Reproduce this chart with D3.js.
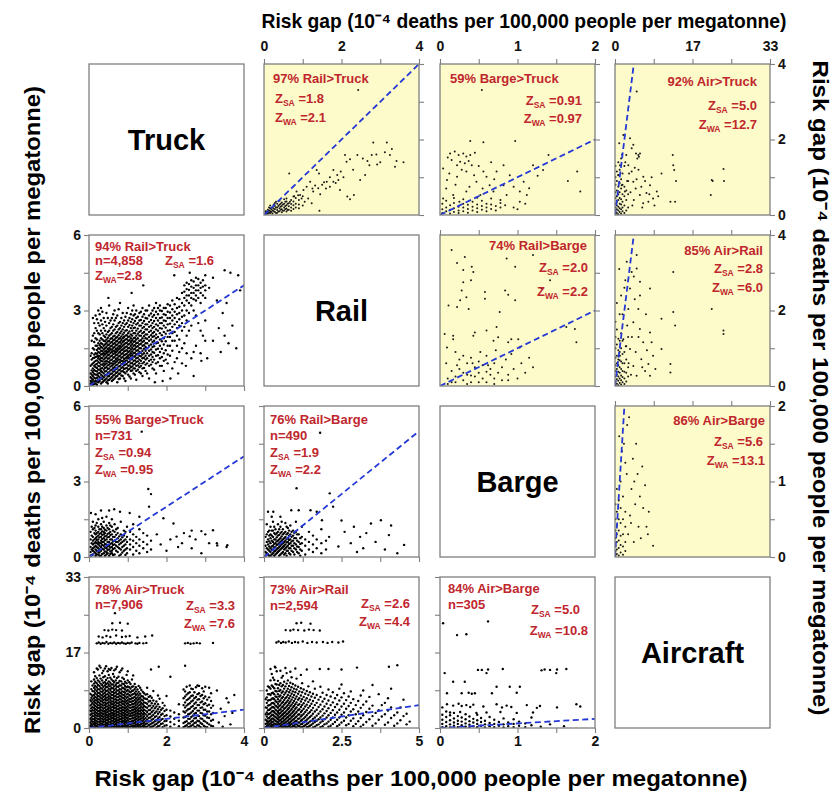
<!DOCTYPE html>
<html><head><meta charset="utf-8">
<script src="https://cdn.jsdelivr.net/npm/d3@7"></script>
<style>
body{margin:0;background:#fff}
svg{display:block}
text{font-family:"Liberation Sans",Arial,Helvetica,sans-serif;font-weight:bold}
</style>
</head><body>
<svg id="chart" width="833" height="794"></svg>
<script>
// ---------------- data ----------------
const modes = ["Truck", "Rail", "Barge", "Aircraft"];

// axis extents: lower triangle uses bottom/left axes, upper triangle top/right axes
const lowerXMax = [4, 5, 2];          // columns 0..2
const lowerYMax = [null, 6, 6, 33];   // rows 1..3
const upperXMax = [null, 4, 2, 33];   // columns 1..3
const upperYMax = [4, 4, 2];          // rows 0..2
const lowerXTickLabels = [["0","2","4"], ["0","2.5","5"], ["0","1","2"]];
const lowerYTickLabels = [null, ["0","3","6"], ["0","3","6"], ["0","17","33"]];
const upperXTickLabels = [null, ["0","2","4"], ["0","1","2"], ["0","17","33"]];
const upperYTickLabels = [["0","2","4"], ["0","2","4"], ["0","1","2"]];

const axisTitle = "Risk gap (10\u207B\u2074 deaths per 100,000 people per megatonne)";

// [row, col, headline, n, Z_SA text, Z_WA text]
const annotations = [
  [0,1,"97% Rail>Truck", null, " =1.8", " =2.1"],
  [0,2,"59% Barge>Truck", null, " =0.91", " =0.97"],
  [0,3,"92% Air>Truck", null, " =5.0", " =12.7"],
  [1,2,"74% Rail>Barge", null, " =2.0", " =2.2"],
  [1,3,"85% Air>Rail", null, " =2.8", " =6.0"],
  [2,3,"86% Air>Barge", null, " =5.6", " =13.1"],
  [1,0,"94% Rail>Truck", "n=4,858", " =1.6", "=2.8"],
  [2,0,"55% Barge>Truck", "n=731", " =0.94", " =0.95"],
  [2,1,"76% Rail>Barge", "n=490", " =1.9", " =2.2"],
  [3,0,"78% Air>Truck", "n=7,906", " =3.3", " =7.6"],
  [3,1,"73% Air>Rail", "n=2,594", " =2.6", " =4.4"],
  [3,2,"84% Air>Barge", "n=305", " =5.0", " =10.8"]
];

// scatter values: flat [x,y,x,y,...] lists and column strips [x, y1, y2, ...]
const railTruckUpperPts = [2.43,3.31,0.65,1.10,2.82,1.92,3.17,1.92,2.09,1.59,2.22,1.48,2.41,1.59,2.13,1.41,2.67,1.43,2.78,1.59,2.72,1.32,2.92,1.34,3.12,1.66,3.25,1.59,3.42,1.43,3.60,1.40,3.38,1.28,1.79,1.19,1.89,1.06,1.98,1.15,2.15,0.49,2.32,0.53,2.22,0.42,1.36,1.19,1.42,1.10,1.62,0.88,1.55,0.87,1.43,0.11,1.19,0.88,1.32,0.78,1.40,0.71,1.27,0.62,1.10,0.75,1.02,0.66,0.93,0.53,0.84,0.62,0.97,0.44,0.76,0.49,0.67,0.35,0.58,0.44,1.14,0.44,1.23,0.31,1.79,0.88,1.92,0.93,1.70,0.75,1.96,0.66,2.48,0.93,2.61,1.06,1.50,0.80,1.60,0.70,1.70,1.00,1.85,0.85,2.05,1.00,2.30,1.20,2.55,1.50,3.00,1.40,3.30,1.75,2.90,1.60,1.25,0.70,1.45,0.55,1.05,0.35,0.88,0.52,0.78,0.50];
const railTruckUpperStrips = [[0.04,0.02,0.06,0.1],[0.1,0.03,0.08,0.14],[0.16,0.05,0.1,0.18,0.25],[0.22,0.04,0.12,0.2],[0.28,0.08,0.15,0.24,0.32],[0.34,0.06,0.13,0.2,0.3],[0.4,0.1,0.18,0.27,0.38],[0.46,0.07,0.15,0.24,0.33],[0.52,0.12,0.2,0.3,0.42],[0.58,0.09,0.17,0.26,0.36],[0.64,0.14,0.23,0.31],[0.7,0.11,0.2,0.29,0.4],[0.76,0.16,0.26,0.36],[0.82,0.2,0.3,0.45],[0.9,0.18,0.28,0.4],[1.0,0.25,0.5],
[0.07,0.04,0.09],[0.13,0.06,0.12,0.2],[0.19,0.08,0.15],[0.25,0.1,0.17,0.28],[0.31,0.05,0.2,0.35],[0.37,0.09,0.24],[0.43,0.14,0.22,0.3],[0.49,0.11,0.28],[0.55,0.16,0.24,0.35],[0.61,0.13,0.3]];

const bargeTruckUpperPts = [0.54,3.31,0.39,1.96,0.56,1.93,0.97,1.96,0.13,1.63,0.19,1.68,0.24,1.59,0.30,1.63,0.34,1.55,0.39,1.59,0.15,1.46,0.26,1.41,0.22,1.32,0.32,1.37,0.37,1.43,0.41,1.32,0.45,1.65,0.10,1.52,0.04,1.23,0.09,0.93,0.22,1.01,0.34,1.15,0.56,1.15,0.60,1.01,0.73,1.15,0.82,1.32,0.47,0.88,0.64,0.79,0.82,0.79,0.95,0.75,1.03,0.62,1.08,0.88,1.12,0.53,0.86,0.53,0.69,0.62,0.52,0.53,0.34,0.62,0.17,0.53,0.04,0.44,1.20,1.32,1.33,1.19,1.40,1.59,1.65,0.90,1.77,1.15,1.81,0.62,1.26,1.04,1.15,0.71,1.03,0.35,1.10,0.30,0.95,0.20,0.28,1.20,0.12,1.10,0.50,1.30,0.66,1.40,0.44,1.05,0.70,0.95,0.90,1.05,0.78,0.40,0.60,0.30,1.00,0.15,0.20,0.80,0.08,0.70,0.38,0.75,0.55,0.70,0.25,0.35];
const bargeTruckUpperStrips = [[0.03,0.05,0.15,0.3],[0.08,0.1,0.2,0.38],[0.13,0.04,0.14,0.26],[0.18,0.08,0.18,0.32,0.45],[0.24,0.05,0.12,0.22],[0.3,0.1,0.2,0.3,0.42],[0.36,0.06,0.16,0.27],[0.42,0.12,0.22,0.35],[0.48,0.08,0.18,0.28,0.46],[0.54,0.14,0.24,0.38],[0.6,0.1,0.2],[0.66,0.16,0.28,0.44],[0.72,0.12,0.24],[0.78,0.2,0.32],[0.84,0.26]];

const airTruckUpperPts = [4.62,3.27,4.47,1.63,4.97,1.59,5.32,1.63,4.75,1.50,5.10,1.54,2.84,1.32,3.55,1.15,2.40,1.59,3.90,0.88,6.03,1.01,5.60,0.75,7.45,0.79,7.80,1.00,8.90,0.62,8.10,0.44,7.10,0.35,6.00,0.31,5.30,0.53,6.70,0.58,9.20,0.50,9.90,1.10,12.3,1.59,12.4,1.32,12.6,1.19,13.0,0.90,11.8,0.35,12.8,0.35,20.6,0.93,20.8,0.90,23.1,1.22,23.2,0.90,20.4,0.53,3.55,1.77,3.90,1.86,3.20,2.03,1.77,2.12,1.06,1.32,0.70,1.06,1.42,0.79,2.10,0.62,4.2,1.25,4.6,0.95,5.0,1.2,3.3,0.6,2.6,0.9,4.0,0.4,3.0,1.1,5.8,0.2,6.4,0.9,8.4,0.25,1.5,1.6,2.2,1.4,0.9,1.9,3.7,0.25,4.4,0.7,7.3,0.55];
const airTruckUpperStrips = [[0.1,0.02,0.1,0.2,0.3,0.45,0.6,0.8,1.0,1.3],[0.4,0.05,0.15,0.25,0.35,0.5,0.65,0.9,1.15],[0.7,0.02,0.12,0.22,0.4,0.55,0.75,1.05,1.4],[1.0,0.08,0.18,0.3,0.45,0.6,0.85,1.2],[1.3,0.04,0.15,0.28,0.42,0.7,0.95,1.5],[1.6,0.1,0.2,0.35,0.55,0.8,1.1],[2.0,0.05,0.25,0.5,0.75,1.3],[2.4,0.12,0.4,0.65],[2.8,0.2,0.55,0.9]];

const railBargeUpperPts = [0.15,3.6,0.32,3.42,0.30,3.07,0.41,3.16,0.43,3.02,0.22,3.26,0.30,2.75,0.40,2.8,0.28,2.53,0.26,2.27,0.22,2.09,0.37,2.04,0.34,2.35,0.58,2.49,0.58,2.31,0.84,2.53,0.88,2.42,0.77,1.96,0.97,2.27,0.86,3.38,0.97,3.16,1.2,3.47,1.42,2.8,1.31,2.58,1.63,1.56,1.74,1.51,1.76,1.16,0.11,2.13,0.06,1.38,0.17,1.33,0.17,1.24,0.09,1.02,0.43,1.33,0.45,1.42,0.6,1.47,0.73,1.56,0.75,1.29,0.92,1.24,1.01,1.24,1.03,1.02,0.88,1.16,0.69,1.2,0.2,0.9,0.3,0.8,0.4,0.75,0.6,0.8,0.85,0.7,1.05,0.6,1.15,0.75,1.2,0.5,1.1,0.35,0.92,0.85,0.72,0.95,0.52,0.9,0.08,0.6,0.22,0.55,0.62,0.55,0.42,0.6];
const railBargeUpperStrips = [[0.1,0.05,0.2],[0.15,0.1,0.4],[0.2,0.25,0.1],[0.25,0.45,0.7],[0.3,0.15,0.35],[0.35,0.3,0.6,0.05],[0.4,0.1,0.28],[0.45,0.25,0.5],[0.5,0.35,0.65,0.1],[0.55,0.2,0.55],[0.6,0.1,0.38],[0.65,0.3,0.45],[0.7,0.05,0.2,0.6],[0.75,0.35],[0.8,0.15,0.5],[0.88,0.15,0.3],[0.95,0.45],[1.0,0.2]];

const airRailUpperPts = [4.62,3.47,3.55,3.02,4.62,3.11,5.32,2.76,5.32,2.40,7.45,2.58,12.4,3.02,9.9,1.78,12.4,1.96,12.8,1.60,20.6,2.04,23.1,1.47,23.1,1.38,7.45,1.42,7.8,1.16,8.1,0.80,7.1,0.58,11.8,0.58,11.8,0.36,6.0,1.16,5.6,0.71,6.4,0.40,3.2,2.58,2.84,2.04,3.9,1.69,1.77,1.24,1.06,0.80,4.97,2.04,5.3,1.51,3.2,0.98,3.9,0.53,4.6,0.27,7.45,0.27,9.9,0.98,2.5,3.29,2.2,2.8,4.2,2.3,3.6,1.3,4.4,0.9,5.0,1.3,2.6,1.6,6.6,1.9,4.0,2.9,1.6,1.9,2.9,0.6,5.8,0.5,8.6,0.45,3.4,0.3,6.8,0.95,2.3,1.05,1.3,2.4,0.9,3.1];
const airRailUpperStrips = [[0.1,0.02,0.12,0.25,0.4,0.55,0.75,1.0,1.3,1.7],[0.4,0.06,0.18,0.3,0.45,0.6,0.8,1.1,1.5,2.2],[0.7,0.02,0.14,0.25,0.38,0.55,0.7,0.95,1.25],[1.0,0.08,0.2,0.35,0.5,0.68,0.9,1.2,1.9],[1.3,0.04,0.15,0.28,0.45,0.65,1.0,1.4],[1.6,0.1,0.24,0.4,0.6,0.85,1.2],[2.0,0.05,0.2,0.38,0.6,0.9,2.6],[2.4,0.12,0.35,0.7,1.05],[2.8,0.25,0.5,1.3]];

const airBargeUpperPts = [2.8,0.3,3.2,0.55,3.5,0.9,4.0,0.2,4.3,0.7,4.8,1.1,5.0,0.4,5.5,0.25,6.0,0.65,6.4,0.95,7.0,0.3,7.2,0.6,3.8,1.3,4.5,1.5,2.6,1.75,3.0,1.85,5.8,1.2,2.5,1.1,8.1,0.15,1.5,1.4,0.9,1.6,3.4,0.45,4.1,1.0,5.3,0.8,6.7,0.4,2.2,1.25,1.9,1.5];
const airBargeUpperStrips = [[0.1,0.02,0.08,0.15,0.25,0.35,0.5,0.7],[0.4,0.04,0.1,0.2,0.3,0.42,0.6,0.9],[0.8,0.02,0.12,0.22,0.35,0.5,0.75],[1.2,0.06,0.16,0.28,0.45,0.65,1.0],[1.7,0.03,0.14,0.3,0.5,0.8],[2.2,0.08,0.2,0.4,0.6]];

const railTruckLowerPts = [3.2,1.8,3.35,2.3,3.5,2.0,3.6,1.7,3.7,2.4,3.8,1.5,3.45,2.9,3.3,3.4,3.55,3.3,3.65,4.5,3.5,4.6,3.85,4.4,3.2,4.3,3.1,3.9,3.9,3.8,2.9,1.0,2.7,0.4,2.3,0.5,2.1,0.3,1.9,0.2,1.7,0.15,2.5,0.8,3.05,1.1,3.4,1.35,1.4,4.0,2.2,4.4,1.1,3.7,0.5,3.5,2.6,4.5];
const railTruckLowerStrips = [
[0.04,0.02,0.1,0.2,0.35,0.5,0.8,1.2],
[0.1,0.05,0.12,0.25,0.4,0.55,0.7,0.9,1.1,1.5,2.0,2.7],
[0.17,0.1,0.2,0.3,0.45,0.6,0.75,0.85,1.0,1.15,1.3,1.6,1.9,2.3,2.8],
[0.24,0.15,0.25,0.4,0.5,0.65,0.8,0.95,1.1,1.2,1.35,1.5,1.7,2.1,2.5,3.0],
[0.31,0.1,0.3,0.45,0.6,0.7,0.85,1.0,1.1,1.25,1.4,1.55,1.7,1.9,2.2,2.6,3.1],
[0.38,0.2,0.35,0.5,0.65,0.8,0.9,1.05,1.2,1.3,1.45,1.6,1.8,2.0,2.3,2.7],
[0.45,0.15,0.3,0.45,0.6,0.75,0.9,1.0,1.15,1.3,1.4,1.55,1.7,1.85,2.05,2.4,2.9],
[0.52,0.25,0.4,0.55,0.7,0.85,0.95,1.1,1.25,1.4,1.5,1.65,1.8,2.0,2.2,2.5,3.2],
[0.59,0.2,0.35,0.5,0.65,0.8,0.9,1.05,1.2,1.35,1.45,1.6,1.75,1.9,2.1,2.35,2.7],
[0.66,0.3,0.45,0.6,0.75,0.9,1.0,1.15,1.3,1.4,1.55,1.7,1.85,2.0,2.25,2.6,3.0],
[0.73,0.15,0.4,0.55,0.7,0.85,1.0,1.1,1.25,1.4,1.5,1.65,1.8,1.95,2.15,2.4,2.8],
[0.8,0.3,0.5,0.65,0.8,0.95,1.05,1.2,1.35,1.5,1.6,1.75,1.9,2.1,2.3,2.55,3.3],
[0.87,0.4,0.6,0.75,0.9,1.0,1.15,1.3,1.45,1.6,1.75,1.9,2.05,2.25,2.5,2.9],
[0.94,0.2,0.5,0.7,0.85,1.0,1.1,1.25,1.4,1.55,1.7,1.85,2.0,2.2,2.45,2.75],
[1.01,0.45,0.65,0.8,0.95,1.1,1.2,1.35,1.5,1.65,1.8,1.95,2.1,2.35,2.6,3.1],
[1.08,0.3,0.6,0.75,0.9,1.05,1.2,1.3,1.45,1.6,1.75,1.9,2.05,2.3,2.55,2.85],
[1.15,0.5,0.7,0.85,1.0,1.15,1.3,1.45,1.6,1.75,1.9,2.1,2.3,2.5,2.8,3.2],
[1.22,0.25,0.6,0.8,0.95,1.1,1.25,1.4,1.55,1.7,1.85,2.0,2.2,2.45,2.7,3.0],
[1.3,0.55,0.75,0.9,1.05,1.2,1.35,1.5,1.65,1.8,2.0,2.15,2.4,2.6,2.9],
[1.38,0.4,0.7,0.9,1.1,1.25,1.4,1.6,1.75,1.9,2.1,2.3,2.5,2.75,3.1],
[1.46,0.6,0.85,1.05,1.2,1.4,1.55,1.7,1.9,2.05,2.25,2.45,2.7,3.0],
[1.55,0.3,0.8,1.0,1.2,1.4,1.6,1.8,1.95,2.15,2.35,2.55,2.8,3.2],
[1.64,0.7,0.95,1.15,1.35,1.55,1.75,1.95,2.1,2.3,2.5,2.75,3.0],
[1.73,0.5,0.9,1.2,1.45,1.7,1.9,2.05,2.25,2.45,2.7,2.95,3.3],
[1.83,0.8,1.1,1.35,1.6,1.85,2.1,2.3,2.5,2.7,3.0,3.2],
[1.93,0.6,1.0,1.3,1.65,1.9,2.15,2.4,2.6,2.85,3.1],
[2.03,0.9,1.25,1.6,1.95,2.2,2.45,2.7,2.95,3.25],
[2.15,0.7,1.4,1.8,2.1,2.35,2.6,2.8,3.05,3.4],
[2.27,1.1,1.6,2.0,2.3,2.55,2.85,3.1,3.5],
[2.4,0.9,1.5,2.2,2.5,2.75,3.0,3.3,3.7],
[2.52,1.3,2.0,2.6,3.0,3.4,3.6,3.85,4.1],
[2.64,1.1,2.4,3.2,3.5,3.7,3.95,4.2],
[2.76,1.6,2.8,3.4,3.6,3.8,4.0,4.3],
[2.88,1.3,2.2,3.3,3.7,3.9,4.1],
[3.0,1.8,2.6,3.5,3.8,4.0,4.4],
[0.07,0.08,0.18,0.3,0.45,0.62,0.85,1.05,1.3,1.8],
[0.135,0.08,0.18,0.33,0.48,0.63,0.8,0.95,1.12,1.25,1.45,1.75,2.1,2.5],
[0.205,0.05,0.18,0.33,0.45,0.58,0.72,0.88,1.02,1.17,1.28,1.43,1.6,1.85,2.2,2.65],
[0.275,0.2,0.35,0.52,0.65,0.78,0.92,1.05,1.18,1.32,1.48,1.62,1.8,2.05,2.4,2.85],
[0.345,0.15,0.28,0.4,0.55,0.72,0.85,0.98,1.12,1.27,1.38,1.52,1.67,1.85,2.1,2.45,2.95],
[0.415,0.25,0.42,0.58,0.72,0.85,0.97,1.1,1.25,1.37,1.5,1.65,1.78,1.95,2.2,2.55],
[0.485,0.1,0.22,0.38,0.52,0.68,0.82,0.97,1.08,1.22,1.35,1.47,1.62,1.77,1.92,2.15,2.7],
[0.555,0.3,0.47,0.62,0.77,0.9,1.02,1.17,1.32,1.45,1.57,1.72,1.88,2.05,2.3,2.6],
[0.625,0.25,0.42,0.57,0.72,0.85,0.97,1.12,1.27,1.4,1.52,1.67,1.82,1.97,2.2,2.45,2.85],
[0.695,0.37,0.52,0.67,0.82,0.95,1.07,1.22,1.35,1.47,1.62,1.77,1.92,2.1,2.35,2.7],
[0.765,0.28,0.47,0.62,0.77,0.92,1.05,1.17,1.32,1.45,1.57,1.72,1.87,2.02,2.25,2.5,3.05],
[0.835,0.42,0.58,0.72,0.87,1.0,1.12,1.27,1.42,1.55,1.68,1.82,1.97,2.17,2.4,2.7],
[0.905,0.3,0.55,0.68,0.82,0.95,1.07,1.22,1.37,1.5,1.65,1.8,1.95,2.12,2.35,2.6],
[0.975,0.58,0.72,0.88,1.02,1.15,1.28,1.42,1.57,1.72,1.87,2.02,2.22,2.5,2.9],
[1.045,0.38,0.68,0.82,0.97,1.12,1.25,1.38,1.52,1.68,1.82,1.97,2.17,2.42,2.7],
[1.115,0.62,0.78,0.92,1.08,1.22,1.37,1.52,1.67,1.82,2.0,2.2,2.4,2.65,3.0],
[1.185,0.45,0.7,0.88,1.02,1.18,1.32,1.48,1.62,1.78,1.92,2.1,2.32,2.58,2.85],
[1.26,0.65,0.82,0.98,1.12,1.28,1.42,1.58,1.72,1.9,2.08,2.28,2.5,2.75],
[1.34,0.5,0.8,1.0,1.18,1.32,1.5,1.68,1.82,2.0,2.2,2.4,2.62,2.95],
[1.42,0.72,0.95,1.12,1.3,1.48,1.62,1.8,1.98,2.15,2.35,2.58,2.85],
[1.5,0.5,0.9,1.1,1.3,1.5,1.7,1.88,2.05,2.25,2.45,2.68,3.0],
[1.6,0.85,1.05,1.25,1.45,1.65,1.85,2.02,2.2,2.4,2.62,2.88],
[1.68,0.65,1.05,1.32,1.58,1.8,1.98,2.15,2.35,2.58,2.82,3.1],
[1.78,0.95,1.22,1.48,1.72,1.95,2.2,2.4,2.6,2.85,3.1],
[1.88,0.8,1.15,1.48,1.78,2.02,2.28,2.5,2.72,2.98],
[1.98,1.05,1.42,1.78,2.08,2.32,2.58,2.82,3.1],
[2.09,1.2,1.6,1.95,2.22,2.48,2.7,2.92,3.2],
[2.21,0.95,1.8,2.15,2.45,2.7,2.95,3.25],
[2.33,1.35,1.85,2.4,2.65,2.9,3.15,3.45],
[2.46,1.7,2.35,2.8,3.2,3.5,3.75,4.0],
[2.58,2.2,2.9,3.3,3.6,3.82,4.05],
[2.7,1.35,3.0,3.45,3.7,3.9,4.15],
[2.82,2.5,3.5,3.8,4.0,4.25],
[2.94,2.0,3.6,3.95,4.2]];

const bargeTruckLowerPts = [1.36,4.98,1.53,2.7,1.6,2.5,1.55,2.0,1.3,1.6,1.05,1.75,0.8,1.8,0.65,1.9,0.05,1.75,1.75,0.9,1.85,0.5,2.0,0.25,2.1,0.7,2.3,0.4,1.92,1.54,2.26,0.81,2.65,0.35,3.3,0.55,3.31,0.46,3.2,1.06,2.6,0.82,2.9,1.03,2.18,1.33,2.4,0.55,2.75,0.7,2.9,0.15,3.1,0.55,3.55,0.4,3.57,0.47,2.45,0.95,3.0,0.9,2.65,1.05];
const bargeTruckLowerStrips = [[0.04,0.05,0.2,0.4,0.7,1.0],[0.1,0.1,0.25,0.35,0.5,0.65,0.8,1.1,1.4],[0.17,0.05,0.15,0.3,0.45,0.6,0.75,0.9,1.05,1.25,1.7],[0.24,0.1,0.2,0.35,0.5,0.6,0.7,0.85,1.0,1.2,1.5],[0.31,0.05,0.25,0.4,0.55,0.65,0.8,0.95,1.1,1.3,1.85],[0.38,0.15,0.3,0.45,0.6,0.75,0.9,1.0,1.15,1.4],[0.45,0.1,0.2,0.35,0.5,0.7,0.85,1.05,1.25,1.6],[0.52,0.05,0.3,0.45,0.6,0.8,0.95,1.1,1.35,1.85],[0.59,0.15,0.25,0.4,0.55,0.7,0.9,1.2,1.5],[0.66,0.1,0.35,0.5,0.65,0.8,1.0,1.3],[0.74,0.2,0.4,0.6,0.75,0.95,1.15],[0.82,0.1,0.3,0.55,0.7,0.9,1.4],[0.9,0.25,0.45,0.65,0.85,1.05],[0.98,0.15,0.35,0.6,0.8,1.2],[1.06,0.3,0.5,0.7,1.0],[1.14,0.1,0.4,0.65,0.9,1.3],[1.22,0.25,0.55,0.8],[1.3,0.15,0.45,0.7,1.1],[1.4,0.35,0.6,0.95],[1.5,0.2,0.5,0.85],[1.6,0.3,0.65],
[0.07,0.08,0.3,0.55,0.85,1.2],[0.14,0.2,0.4,0.55,0.7,0.95,1.15],[0.2,0.1,0.25,0.4,0.55,0.68,0.8,0.95,1.35],[0.27,0.05,0.18,0.3,0.45,0.55,0.78,0.92,1.1],[0.34,0.12,0.33,0.48,0.6,0.72,0.88,1.02,1.2,1.55],[0.41,0.05,0.22,0.38,0.52,0.67,0.82,0.95,1.08],[0.48,0.15,0.28,0.42,0.6,0.78,0.92,1.15],[0.55,0.12,0.22,0.38,0.52,0.7,0.87,1.0,1.25],[0.62,0.08,0.32,0.48,0.62,0.8,1.05],[0.7,0.25,0.45,0.6,0.88,1.1],[0.78,0.05,0.35,0.5,0.65,0.82],[0.86,0.18,0.4,0.6,0.78],[0.94,0.08,0.3,0.5,0.7,1.0]];

const railBargeLowerPts = [1.81,4.94,1.05,2.73,2.12,2.53,2.23,2.0,4.03,0.87,4.52,0.48,3.77,1.46,3.45,1.33,2.9,1.2,3.1,0.8,4.1,1.25,3.6,0.6,3.2,0.35,2.8,0.55,2.4,0.42,2.1,0.8,1.87,1.46,1.7,1.8,1.5,1.86,1.12,1.86,0.88,1.86,0.3,1.8,2.6,1.0,3.3,0.95,3.9,0.3,4.3,0.15,2.5,1.45,3.0,0.2];
const railBargeLowerStrips = [[0.05,0.05,0.2,0.45,0.8],[0.13,0.1,0.3,0.5,0.7,1.0,1.8],[0.21,0.05,0.2,0.35,0.55,0.75,0.9,1.2],[0.29,0.15,0.3,0.45,0.6,0.8,1.05,1.4],[0.37,0.1,0.25,0.4,0.55,0.7,0.9,1.1],[0.45,0.2,0.35,0.5,0.65,0.85,1.0,1.3],[0.53,0.1,0.3,0.45,0.6,0.75,0.95,1.2,1.6],[0.61,0.2,0.4,0.55,0.7,0.9,1.1],[0.69,0.15,0.35,0.5,0.65,0.8,1.0,1.35],[0.77,0.25,0.45,0.6,0.75,0.95,1.15],[0.85,0.1,0.35,0.55,0.7,0.9,1.25],[0.94,0.2,0.45,0.65,0.85,1.05],[1.03,0.3,0.5,0.75,1.0,1.4],[1.12,0.15,0.4,0.6,0.9],[1.22,0.25,0.55,0.8,1.2],[1.33,0.1,0.45,0.7],[1.45,0.3,0.6,1.0],[1.58,0.2,0.5,0.85],[1.7,0.35,0.7],[1.85,0.15,0.55,1.1],[2.0,0.3,0.65],
[0.09,0.15,0.35,0.6,0.9,1.3],[0.17,0.05,0.25,0.42,0.62,0.85,1.05],[0.25,0.1,0.28,0.42,0.65,0.85,1.05,1.6],[0.33,0.05,0.22,0.38,0.52,0.7,0.95,1.2],[0.41,0.15,0.3,0.48,0.62,0.78,0.95],[0.49,0.05,0.25,0.4,0.55,0.7,0.88,1.1],[0.57,0.15,0.35,0.5,0.65,0.82,1.0,1.4],[0.65,0.1,0.3,0.45,0.6,0.75,0.95],[0.73,0.05,0.25,0.4,0.58,0.72,0.9,1.2],[0.81,0.15,0.35,0.52,0.68,0.85,1.05],[0.89,0.25,0.45,0.62,0.8,1.0],[0.98,0.1,0.35,0.55,0.75,0.95],[1.07,0.2,0.42,0.65,0.9],[1.17,0.05,0.3,0.52,0.75]];

const airTruckLowerPts = [3.35,1.2,3.4,4.2,3.5,2.6,3.55,6.5,3.65,0.8,3.7,3.3,3.75,7.2,3.6,5.6,3.3,8.2,3.45,0.3,1.8,13.4,2.48,13.6,1.6,12.8,2.1,11.2,0.67,25.1,
0.2,18.5,0.25,18.7,0.3,18.4,0.35,18.6,0.4,18.5,0.45,18.8,0.5,18.4,0.55,18.6,0.6,18.5,0.65,18.7,0.7,18.4,0.75,18.6,0.8,18.5,0.85,18.7,0.9,18.5,0.95,18.4,1.0,18.6,1.05,18.5,1.1,18.7,1.2,18.5,1.25,18.4,1.3,18.6,1.4,18.5,1.48,18.6,2.48,18.5,2.55,18.6,2.62,18.4,2.7,18.5,2.78,18.6,2.86,18.5,3.2,18.6,
0.25,20.0,0.35,19.8,0.45,20.1,0.55,19.9,0.7,20.2,0.85,19.9,0.95,20.0,1.05,20.1,1.25,19.8,1.45,20.0,1.63,20.2,0.4,21.4,0.5,21.3,0.6,21.5,0.7,21.4,0.85,21.3,0.6,22.9,0.8,23.0,1.0,22.8];
const airTruckLowerStrips = [
[0.03,0.1,0.5,1.2,2.0,2.9,3.8,4.9,6.1,7.5],
[0.09,0.2,0.7,1.3,1.9,2.6,3.2,3.9,4.6,5.4,6.2,7.0,8.1,9.3],
[0.16,0.1,0.6,1.1,1.7,2.3,2.9,3.5,4.1,4.8,5.5,6.1,6.8,7.6,8.4,9.2,10.1,11.3],
[0.23,0.3,0.8,1.4,2.0,2.6,3.1,3.7,4.4,5.0,5.7,6.3,7.0,7.7,8.5,9.4,10.4,12.8],
[0.3,0.1,0.5,1.0,1.6,2.2,2.8,3.4,4.0,4.6,5.2,5.9,6.6,7.3,8.0,8.8,9.7,10.8,13.2],
[0.37,0.2,0.7,1.3,1.8,2.4,3.0,3.6,4.2,4.9,5.5,6.1,6.8,7.5,8.2,9.0,9.9,11.1,12.5],
[0.44,0.1,0.6,1.1,1.7,2.3,2.9,3.4,4.0,4.7,5.3,6.0,6.6,7.3,8.1,8.9,9.6,10.5,13.5],
[0.51,0.3,0.8,1.4,2.0,2.5,3.1,3.8,4.4,5.0,5.7,6.4,7.0,7.8,8.6,9.4,10.2,11.6,12.9],
[0.58,0.1,0.5,1.0,1.6,2.2,2.7,3.3,3.9,4.5,5.2,5.8,6.5,7.2,7.9,8.7,9.5,10.6,13.1],
[0.65,0.2,0.7,1.3,1.9,2.5,3.0,3.6,4.3,4.9,5.5,6.2,6.9,7.6,8.3,9.1,10.0,11.2,12.6],
[0.72,0.1,0.6,1.2,1.7,2.3,2.9,3.5,4.1,4.7,5.4,6.0,6.7,7.4,8.2,9.0,9.8,10.9,13.4],
[0.79,0.3,0.8,1.4,2.0,2.6,3.2,3.8,4.4,5.1,5.7,6.4,7.1,7.8,8.5,9.3,10.3,12.2],
[0.86,0.1,0.5,1.1,1.6,2.2,2.8,3.4,4.0,4.6,5.3,5.9,6.6,7.3,8.0,8.8,9.7,11.0,13.0],
[0.93,0.2,0.7,1.3,1.8,2.4,3.0,3.7,4.3,4.9,5.6,6.2,6.9,7.7,8.4,9.2,10.1],
[1.0,0.1,0.6,1.1,1.7,2.3,2.9,3.5,4.1,4.8,5.4,6.1,6.8,7.5,8.3,9.1,10.4,12.4],
[1.07,0.3,0.8,1.4,2.0,2.6,3.1,3.7,4.4,5.0,5.7,6.3,7.0,7.8,8.6,9.6],
[1.14,0.1,0.5,1.0,1.6,2.2,2.8,3.4,4.0,4.6,5.2,5.9,6.6,7.4,8.2,9.1,11.5],
[1.21,0.2,0.7,1.3,1.9,2.5,3.1,3.7,4.3,5.0,5.7,6.4,7.2,8.0,8.9],
[1.28,0.1,0.6,1.2,1.8,2.4,3.0,3.6,4.2,4.9,5.6,6.3,7.1,7.9,9.2],
[1.35,0.3,0.9,1.5,2.1,2.7,3.3,4.0,4.7,5.4,6.2,7.0,8.3],
[1.42,0.1,0.6,1.2,1.9,2.6,3.3,4.0,4.8,5.6,6.5,7.6],
[1.5,0.3,1.0,1.8,2.6,3.5,4.4,5.3,6.3,7.4,8.8],
[1.58,0.2,0.8,1.5,2.3,3.1,4.0,4.9,5.9,7.0],
[1.66,0.4,1.2,2.0,2.9,3.8,4.8,6.0,8.1],
[1.74,0.1,0.9,1.7,2.6,3.6,4.7,5.8],
[1.82,0.5,1.4,2.4,3.5,4.6,6.4],
[1.9,0.2,1.0,2.0,3.1,4.3,5.5],
[2.0,0.6,1.6,2.8,4.0,7.0],
[2.1,0.3,1.3,2.5,3.8],
[2.2,0.8,2.0,3.4],
[2.32,0.4,1.6,3.0,5.2],
[2.44,0.2,1.1,2.3,3.6,5.0,6.5,8.4],
[2.52,0.6,1.5,2.6,3.8,4.9,6.1,7.3,9.0],
[2.6,0.3,1.0,2.0,3.1,4.2,5.4,6.6,7.8,9.3],
[2.68,0.7,1.6,2.7,3.7,4.8,6.0,7.1,8.5],
[2.76,0.2,1.2,2.2,3.3,4.4,5.6,6.8,8.9],
[2.84,0.5,1.5,2.6,3.8,5.0,6.3,7.6,9.2],
[2.92,0.9,2.0,3.2,4.5,5.8,7.2,8.7],
[3.0,0.3,1.4,2.7,4.0,5.4,6.9,9.0],
[3.1,0.8,2.2,3.6,5.1,6.7,8.8],
[3.2,0.4,1.8,3.3,4.9],
[0.06,0.4,0.9,1.6,2.3,3.0,3.6,4.3,5.1,5.8,6.6,7.3,8.5,10.2],
[0.13,0.3,0.9,1.4,2.0,2.6,3.2,3.8,4.4,5.1,5.8,6.5,7.2,8.0,8.8,9.7,10.6,12.2],
[0.2,0.4,1.0,1.5,2.1,2.7,3.3,4.0,4.6,5.3,6.0,6.6,7.3,8.1,8.9,9.8,10.9,13.0],
[0.27,0.2,0.7,1.3,1.9,2.5,3.1,3.7,4.3,4.9,5.5,6.2,6.9,7.6,8.4,9.2,10.1,11.5,13.6],
[0.34,0.4,0.9,1.4,2.0,2.6,3.2,3.8,4.5,5.1,5.8,6.4,7.1,7.9,8.6,9.4,10.4,12.0],
[0.41,0.3,0.8,1.4,2.0,2.6,3.2,3.7,4.4,5.0,5.6,6.3,7.0,7.7,8.5,9.3,10.0,11.3,13.0],
[0.48,0.1,0.6,1.1,1.7,2.3,2.8,3.5,4.1,4.7,5.4,6.1,6.7,7.4,8.2,9.0,9.8,10.9,12.4],
[0.55,0.3,0.8,1.3,1.9,2.5,3.0,3.6,4.2,4.8,5.5,6.1,6.8,7.5,8.3,9.1,9.9,11.0,12.7],
[0.62,0.4,1.0,1.6,2.2,2.8,3.3,3.9,4.6,5.2,5.8,6.5,7.2,7.9,8.7,9.5,10.3,11.8],
[0.69,0.3,0.9,1.5,2.0,2.6,3.2,3.8,4.4,5.0,5.7,6.3,7.0,7.8,8.6,9.4,10.4,12.9],
[0.76,0.1,0.5,1.1,1.7,2.3,2.9,3.5,4.1,4.8,5.4,6.1,6.8,7.5,8.2,9.0,9.9,11.2],
[0.83,0.3,0.8,1.4,1.9,2.5,3.1,3.7,4.3,4.9,5.6,6.2,6.9,7.6,8.4,9.3,10.2,12.6],
[0.9,0.4,1.0,1.5,2.1,2.7,3.3,3.9,4.5,5.2,5.8,6.5,7.2,7.9,8.7,9.6,10.7],
[0.97,0.1,0.5,1.1,1.6,2.2,2.8,3.4,4.0,4.6,5.3,5.9,6.6,7.3,8.1,8.9,9.8,11.6],
[1.04,0.3,0.9,1.4,2.0,2.6,3.2,3.8,4.5,5.1,5.8,6.4,7.2,8.0,8.9,10.0],
[1.11,0.4,1.0,1.5,2.1,2.7,3.3,3.9,4.5,5.2,5.8,6.5,7.3,8.1,9.0,10.6],
[1.18,0.1,0.5,1.1,1.7,2.3,2.9,3.5,4.1,4.7,5.4,6.1,6.8,7.6,8.5,9.6],
[1.25,0.4,0.9,1.5,2.1,2.7,3.3,3.9,4.6,5.3,6.0,6.7,7.5,8.4],
[1.32,0.2,0.7,1.3,1.9,2.5,3.1,3.7,4.4,5.1,5.8,6.6,7.5,8.8],
[1.39,0.4,1.0,1.6,2.3,3.0,3.7,4.4,5.2,6.0,6.9,7.9],
[1.46,0.3,0.9,1.5,2.2,3.0,3.8,4.6,5.5,6.4,7.3],
[1.54,0.6,1.4,2.2,3.0,3.9,4.8,5.8,6.8],
[1.62,0.3,1.0,1.8,2.6,3.5,4.4,5.4,6.6],
[1.7,0.7,1.5,2.4,3.3,4.3,5.3],
[1.78,0.4,1.2,2.1,3.1,4.1,5.2,7.1],
[1.86,0.9,1.8,2.9,4.0],
[1.95,0.5,1.5,2.6,3.7,4.9],
[2.48,0.4,1.3,2.4,3.4,4.5,5.6,6.9,8.0],
[2.56,0.2,1.0,2.0,3.0,4.1,5.2,6.3,7.6],
[2.64,0.5,1.4,2.4,3.4,4.6,5.8,7.0,8.6],
[2.72,0.3,1.1,2.1,3.1,4.2,5.3,6.5,7.8],
[2.8,0.6,1.6,2.7,3.8,5.0,6.2,7.4,9.3],
[2.88,0.2,1.1,2.1,3.3,4.4,5.6,7.0],
[2.96,0.5,1.6,2.8,4.0,5.2,6.5,8.0],
[3.05,0.2,1.1,2.3,3.6,4.9,6.2],
[3.15,0.5,1.6,3.0,4.4,5.9,7.6]];

const airRailLowerPts = [4.03,13.4,4.3,13.7,3.0,13.2,2.5,12.8,1.8,12.9,0.35,13.4,
0.4,18.7,0.47,18.9,0.55,18.6,0.62,18.8,0.7,18.7,0.8,18.9,0.9,18.6,1.0,18.8,1.1,18.7,1.25,18.9,1.4,18.6,1.55,18.8,1.7,18.7,1.9,18.8,2.05,18.6,2.2,18.8,2.4,18.7,2.55,18.9,
0.7,21.4,0.85,21.3,0.95,21.5,1.1,21.4,1.3,21.3,1.45,21.5,1.6,21.4,1.8,21.3,1.05,22.9,1.2,23.0,1.5,22.8];
const airRailLowerStrips = [
[0.05,0.2,0.9,1.8,3.0,4.5,6.3],
[0.13,0.1,0.6,1.3,2.1,3.0,3.9,4.9,6.0,7.4,9.1],
[0.21,0.4,1.0,1.7,2.5,3.3,4.2,5.1,6.1,7.2,8.6,10.4,12.9],
[0.29,0.1,0.7,1.4,2.1,2.9,3.7,4.6,5.5,6.5,7.7,9.0,11.0],
[0.37,0.3,0.9,1.6,2.4,3.2,4.0,4.9,5.9,6.9,8.1,9.6,13.2],
[0.45,0.1,0.6,1.2,1.9,2.7,3.5,4.4,5.3,6.3,7.4,8.7,10.3],
[0.53,0.4,1.0,1.7,2.5,3.3,4.1,5.0,6.0,7.1,8.3,9.8,12.5],
[0.61,0.2,0.8,1.4,2.2,3.0,3.8,4.7,5.7,6.8,8.0,9.4,11.4],
[0.69,0.1,0.6,1.2,1.9,2.7,3.5,4.4,5.4,6.5,7.7,9.1,13.1],
[0.77,0.3,0.9,1.6,2.4,3.2,4.1,5.0,6.0,7.2,8.6,10.4],
[0.85,0.1,0.7,1.3,2.1,2.9,3.8,4.8,5.8,7.0,8.3,9.9,12.3],
[0.93,0.4,1.0,1.8,2.6,3.5,4.5,5.5,6.7,8.0,9.6],
[1.01,0.2,0.8,1.5,2.3,3.2,4.2,5.2,6.4,7.8,9.3,13.0],
[1.1,0.5,1.2,2.0,2.9,3.9,5.0,6.2,7.5,9.0],
[1.19,0.1,0.8,1.6,2.5,3.5,4.6,5.8,7.1,8.7,11.6],
[1.28,0.4,1.2,2.1,3.1,4.2,5.4,6.8,8.4],
[1.38,0.2,0.9,1.8,2.8,3.9,5.1,6.5,8.1,12.8],
[1.48,0.5,1.4,2.4,3.5,4.8,6.2,7.8],
[1.58,0.1,1.0,2.0,3.1,4.4,5.9,7.5,10.2],
[1.7,0.6,1.6,2.7,4.0,5.5,7.2],
[1.82,0.2,1.2,2.3,3.6,5.1,6.8,9.0],
[1.95,0.8,1.9,3.2,4.7,6.4],
[2.08,0.3,1.4,2.8,4.3,6.0,8.4,12.9],
[2.22,0.9,2.3,3.9,5.6,7.8],
[2.36,0.4,1.8,3.4,5.2,7.2],
[2.5,1.2,2.9,4.7,6.7,9.5],
[2.65,0.6,2.3,4.2,6.1],
[2.8,1.6,3.6,5.5,8.0],
[2.96,0.9,3.0,5.0],
[3.12,0.3,2.2,4.4,7.1],
[3.3,1.3,3.5,5.8],
[3.5,0.5,2.6,4.9,9.4],
[3.7,1.8,3.9,7.4],
[3.9,0.7,3.0,5.5],
[4.1,2.2,4.5,8.6],
[4.3,1.0,3.4],
[4.5,2.6,6.2],
[4.7,1.4],
[0.09,0.4,1.0,1.6,2.5,3.4,4.4,5.5,6.7,8.2],
[0.17,0.3,0.9,1.5,2.2,3.1,4.0,5.0,6.1,7.4,8.9],
[0.25,0.2,0.7,1.3,2.0,2.8,3.6,4.5,5.4,6.4,7.6,9.3,11.8],
[0.33,0.4,1.0,1.8,2.6,3.5,4.4,5.3,6.3,7.4,8.7,10.5],
[0.41,0.2,0.8,1.4,2.2,3.0,3.8,4.7,5.7,6.8,8.0,9.5,12.4],
[0.49,0.3,0.9,1.6,2.3,3.1,3.9,4.8,5.8,6.9,8.1,9.4],
[0.57,0.1,0.7,1.3,2.0,2.8,3.6,4.5,5.4,6.5,7.7,9.1,11.0],
[0.65,0.4,1.0,1.7,2.5,3.3,4.2,5.1,6.1,7.3,8.6,10.1],
[0.73,0.2,0.8,1.4,2.2,3.0,3.8,4.7,5.7,6.8,8.1,9.7,12.0],
[0.81,0.5,1.1,1.9,2.7,3.5,4.4,5.4,6.5,7.8,9.2],
[0.89,0.2,0.9,1.6,2.4,3.2,4.1,5.1,6.2,7.5,8.9,11.1],
[0.97,0.5,1.2,2.0,2.9,3.8,4.8,5.9,7.2,8.6],
[1.05,0.1,0.8,1.6,2.5,3.5,4.5,5.6,6.9,8.4,10.8],
[1.14,0.4,1.2,2.1,3.0,4.1,5.2,6.5,8.0],
[1.23,0.2,0.9,1.8,2.8,3.8,5.0,6.3,7.8,9.8],
[1.33,0.6,1.5,2.4,3.5,4.7,6.0,7.5],
[1.43,0.3,1.1,2.1,3.2,4.4,5.7,7.2,9.1],
[1.53,0.7,1.6,2.7,3.9,5.3,6.9],
[1.64,0.3,1.3,2.3,3.6,5.0,6.6,8.6],
[1.76,0.8,1.9,3.1,4.6,6.2],
[1.89,0.4,1.5,2.7,4.1,5.8,7.7],
[2.02,1.0,2.3,3.7,5.3,7.2],
[2.15,0.5,1.8,3.3,5.0,6.9],
[2.29,1.3,2.9,4.6,6.5],
[2.43,0.7,2.3,4.0,6.0,8.6],
[2.58,1.6,3.4,5.3,7.6],
[2.73,0.9,2.8,4.8,6.9],
[2.88,0.4,2.1,4.1,6.3],
[3.04,1.5,3.6,5.9],
[3.2,0.7,2.8,5.1,8.2],
[3.4,1.9,4.2,6.8],
[3.6,1.0,3.3],
[3.8,2.5,5.0],
[4.0,1.2,3.8,6.5],
[4.2,0.5,2.8],
[4.4,1.7,4.5],
[4.6,0.8,3.1]];

const airBargeLowerPts = [0.04,22.9,0.62,23.3,0.22,20.3,0.34,20.5,0.49,12.7,0.54,12.7,0.62,12.8,0.81,12.9,1.31,12.6,1.35,12.8,1.42,12.7,1.51,12.8,1.63,12.9,0.06,12.0,0.6,12.0,1.5,12.0,0.17,10.1,0.32,10.1,0.73,9.0,0.9,9.0,1.03,9.0,0.09,7.6,0.28,7.6,0.37,7.7,0.41,7.5,0.45,7.6,0.67,7.6,0.99,7.7,
0.09,5.2,0.17,4.9,0.24,5.3,0.28,4.8,0.34,5.0,0.39,4.6,0.43,5.1,0.56,4.7,0.73,5.2,0.8,4.5,0.86,4.9,0.92,4.6,1.12,5.0,1.25,4.4,1.29,4.8,1.51,4.5,1.76,5.2,1.81,4.7,
0.13,3.4,0.26,3.5,0.47,3.3,0.6,3.4,0.78,3.5,0.99,3.3,1.2,3.4];
const airBargeLowerStrips = [[0.03,0.2,0.9,1.8,2.9,4.5],[0.08,0.4,1.3,2.4,3.6],[0.13,0.1,0.8,1.7,2.8],[0.18,0.5,1.2,2.1,3.3],[0.23,0.2,0.9,1.6,2.6],[0.28,0.6,1.4,2.3],[0.33,0.3,1.0,1.9,3.0],[0.38,0.1,0.7,1.5,2.5],[0.43,0.4,1.2,2.0],[0.48,0.2,0.9,1.7,2.9],[0.53,0.5,1.3,2.2],[0.58,0.1,0.8,1.6],[0.64,0.4,1.1,2.4],[0.7,0.2,0.9,1.8],[0.76,0.5,1.3],[0.82,0.1,0.8,2.1],[0.88,0.4,1.2],[0.95,0.2,0.9,1.9],[1.02,0.5,1.4],[1.1,0.2,1.0],[1.18,0.6,2.3],[1.3,0.3],[1.42,0.8],[1.6,0.4]];

// ---------------- layout ----------------
const W = 155, H = 151;
const colX = [89, 264, 440, 615];
const rowY = [64, 235, 406, 577];
const yellow = "#fdfbc9", frameColor = "#7f7f7f", red = "#c0262d", blue = "#2438d6";
const annotSize = 13;

// annotation placement relative to each panel's top-left corner
const annotLayout = {
  "0,1": {head:[9,19,"start"], sa:[11,39,"start"], wa:[11,58,"start"]},
  "0,2": {head:[10,19,"start"], sa:[142,41,"end"], wa:[142,59,"end"]},
  "0,3": {head:[142,22,"end"], sa:[142,46,"end"], wa:[142,65,"end"]},
  "1,2": {head:[147,15,"end"], sa:[148,37,"end"], wa:[148,61,"end"]},
  "1,3": {head:[148,20,"end"], sa:[148,38,"end"], wa:[148,57,"end"]},
  "2,3": {head:[150,19,"end"], sa:[148,40,"end"], wa:[150,59,"end"]},
  "1,0": {head:[6,16,"start"], n:[6,30,"start"], sa:[76,30,"start"], wa:[6,45,"start"]},
  "2,0": {head:[6,18,"start"], n:[6,34,"start"], sa:[6,51,"start"], wa:[6,68,"start"]},
  "2,1": {head:[6,18,"start"], n:[6,34,"start"], sa:[6,51,"start"], wa:[6,68,"start"]},
  "3,0": {head:[6,17,"start"], n:[6,32,"start"], sa:[146,33,"end"], wa:[146,51,"end"]},
  "3,1": {head:[6,17,"start"], n:[6,33,"start"], sa:[146,31,"end"], wa:[146,49,"end"]},
  "3,2": {head:[8,16,"start"], n:[8,32,"start"], sa:[140,37,"end"], wa:[148,58,"end"]}
};

const panels = [
  {r:0,c:1,pts:railTruckUpperPts,strips:railTruckUpperStrips},
  {r:0,c:2,pts:bargeTruckUpperPts,strips:bargeTruckUpperStrips},
  {r:0,c:3,pts:airTruckUpperPts,strips:airTruckUpperStrips},
  {r:1,c:2,pts:railBargeUpperPts,strips:railBargeUpperStrips},
  {r:1,c:3,pts:airRailUpperPts,strips:airRailUpperStrips},
  {r:2,c:3,pts:airBargeUpperPts,strips:airBargeUpperStrips},
  {r:1,c:0,pts:railTruckLowerPts,strips:railTruckLowerStrips},
  {r:2,c:0,pts:bargeTruckLowerPts,strips:bargeTruckLowerStrips},
  {r:2,c:1,pts:railBargeLowerPts,strips:railBargeLowerStrips},
  {r:3,c:0,pts:airTruckLowerPts,strips:airTruckLowerStrips},
  {r:3,c:1,pts:airRailLowerPts,strips:airRailLowerStrips},
  {r:3,c:2,pts:airBargeLowerPts,strips:airBargeLowerStrips}
];

// ---------------- drawing ----------------
const svg = d3.select("#chart");
const defs = svg.append("defs");

function toPoints(flat, strips) {
  const out = [];
  for (let i = 0; i < flat.length; i += 2) out.push([flat[i], flat[i+1]]);
  strips.forEach(s => s.slice(1).forEach(v => out.push([s[0], v])));
  return out;
}
const quarters = m => [0, m/4, m/2, 3*m/4, m];

function styleAxis(g) {
  g.select(".domain").remove();
  g.selectAll(".tick line").attr("stroke", frameColor).attr("stroke-width", 1.1);
  g.selectAll(".tick text").attr("fill", "#111").attr("font-size", 14)
    .attr("font-weight", "bold").attr("font-family", "'Liberation Sans', Arial, sans-serif");
}

function labelFormat(labels) {
  return (d, i) => (labels && i % 2 === 0) ? labels[i / 2] : "";
}

function addZ(g, x, y, anchor, sub, val) {
  const t = g.append("text").attr("x", x).attr("y", y).attr("text-anchor", anchor)
    .attr("fill", red).attr("font-size", annotSize);
  t.append("tspan").text("Z");
  t.append("tspan").attr("font-size", 8.5).attr("dy", 3).text(sub);
  t.append("tspan").attr("dy", -3).text(val);
}

// diagonal mode boxes
modes.forEach((m, i) => {
  const g = svg.append("g");
  g.append("rect").attr("x", colX[i]).attr("y", rowY[i]).attr("width", W).attr("height", H)
    .attr("fill", "#fff").attr("stroke", frameColor).attr("stroke-width", 1.3);
  g.append("text").attr("x", colX[i] + W/2).attr("y", rowY[i] + H/2 + 10)
    .attr("text-anchor", "middle").attr("font-size", 29).attr("fill", "#000").text(m);
});

panels.forEach((p, idx) => {
  const upper = p.c > p.r;
  const xMax = upper ? upperXMax[p.c] : lowerXMax[p.c];
  const yMax = upper ? upperYMax[p.r] : lowerYMax[p.r];
  const x0 = colX[p.c], y0 = rowY[p.r];
  const x = d3.scaleLinear().domain([0, xMax]).range([x0, x0 + W]);
  const y = d3.scaleLinear().domain([0, yMax]).range([y0 + H, y0]);
  const g = svg.append("g");

  defs.append("clipPath").attr("id", "clip" + idx).append("rect")
    .attr("x", x0).attr("y", y0).attr("width", W).attr("height", H);

  g.append("rect").attr("x", x0).attr("y", y0).attr("width", W).attr("height", H)
    .attr("fill", upper ? yellow : "#fff");

  const inner = g.append("g").attr("clip-path", `url(#clip${idx})`);
  inner.selectAll("circle").data(toPoints(p.pts, p.strips)).join("circle")
    .attr("cx", d => x(d[0])).attr("cy", d => y(d[1]))
    .attr("r", upper ? 1.0 : 1.2).attr("fill", upper ? "#1a1a1a" : "#000");

  // equal-risk reference line y = x
  const m = Math.min(xMax, yMax);
  inner.append("line").attr("x1", x(0)).attr("y1", y(0)).attr("x2", x(m)).attr("y2", y(m))
    .attr("stroke", blue).attr("stroke-width", 1.8).attr("stroke-dasharray", "6,3.5");

  g.append("rect").attr("x", x0).attr("y", y0).attr("width", W).attr("height", H)
    .attr("fill", "none").attr("stroke", frameColor).attr("stroke-width", 1.3);

  if (upper) {
    const top = g.append("g").attr("transform", `translate(0,${y0})`)
      .call(d3.axisTop(x).tickValues(quarters(xMax)).tickSize(5).tickPadding(8)
        .tickFormat(labelFormat(p.r === 0 ? upperXTickLabels[p.c] : null)));
    styleAxis(top);
    const right = g.append("g").attr("transform", `translate(${x0 + W},0)`)
      .call(d3.axisRight(y).tickValues(quarters(yMax)).tickSize(5).tickPadding(3)
        .tickFormat(labelFormat(p.c === 3 ? upperYTickLabels[p.r] : null)));
    styleAxis(right);
  } else {
    const bottom = g.append("g").attr("transform", `translate(0,${y0 + H})`)
      .call(d3.axisBottom(x).tickValues(quarters(xMax)).tickSize(5).tickPadding(3)
        .tickFormat(labelFormat(p.r === 3 ? lowerXTickLabels[p.c] : null)));
    styleAxis(bottom);
    const left = g.append("g").attr("transform", `translate(${x0},0)`)
      .call(d3.axisLeft(y).tickValues(quarters(yMax)).tickSize(5).tickPadding(3)
        .tickFormat(labelFormat(p.c === 0 ? lowerYTickLabels[p.r] : null)));
    styleAxis(left);
  }
});

// statistics text in each panel
annotations.forEach(([r, c, head, n, zsa, zwa]) => {
  const L = annotLayout[r + "," + c];
  const x0 = colX[c], y0 = rowY[r];
  const g = svg.append("g");
  g.append("text").attr("x", x0 + L.head[0]).attr("y", y0 + L.head[1]).attr("text-anchor", L.head[2])
    .attr("fill", red).attr("font-size", annotSize).text(head);
  if (n) g.append("text").attr("x", x0 + L.n[0]).attr("y", y0 + L.n[1]).attr("text-anchor", L.n[2])
    .attr("fill", red).attr("font-size", annotSize).text(n);
  addZ(g, x0 + L.sa[0], y0 + L.sa[1], L.sa[2], "SA", zsa);
  addZ(g, x0 + L.wa[0], y0 + L.wa[1], L.wa[2], "WA", zwa);
});

// axis titles
svg.append("text").attr("x", 524).attr("y", 28).attr("text-anchor", "middle")
  .attr("font-size", 21).attr("textLength", 525).attr("lengthAdjust", "spacingAndGlyphs").text(axisTitle);
svg.append("text").attr("x", 421).attr("y", 786).attr("text-anchor", "middle")
  .attr("font-size", 22).attr("textLength", 653).attr("lengthAdjust", "spacingAndGlyphs").text(axisTitle);
svg.append("text").attr("transform", "translate(40,410) rotate(-90)").attr("text-anchor", "middle")
  .attr("font-size", 22).attr("textLength", 648).attr("lengthAdjust", "spacingAndGlyphs").text(axisTitle);
svg.append("text").attr("transform", "translate(813,388) rotate(90)").attr("text-anchor", "middle")
  .attr("font-size", 22).attr("textLength", 655).attr("lengthAdjust", "spacingAndGlyphs").text(axisTitle);
</script>
</body></html>
